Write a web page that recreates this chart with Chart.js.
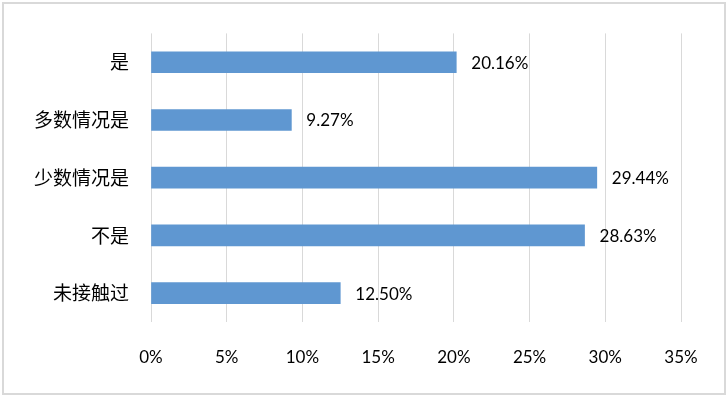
<!DOCTYPE html>
<html><head><meta charset="utf-8">
<script src="https://cdn.jsdelivr.net/npm/chart.js@4"></script>
<style>
html,body{margin:0;padding:0;background:#fff;}
#frame{position:absolute;left:2px;top:2px;width:720px;height:389px;border:2px solid #d9d9d9;}
#c{position:absolute;left:0;top:0;}
</style></head><body>
<div id="frame"></div>
<canvas id="c" width="728" height="397"></canvas>
<script>
const categories = ["是", "多数情况是", "少数情况是", "不是", "未接触过"];
const values = [20.16, 9.27, 29.44, 28.63, 12.50];
const tickValues = [0, 5, 10, 15, 20, 25, 30, 35];

const labelPlugin = {
  id: 'valLabels',
  afterDatasetsDraw(chart) {
    const ctx = chart.ctx;
    const meta = chart.getDatasetMeta(0);
    ctx.save();
    ctx.font = '17px Lato, "Noto Sans", sans-serif';
    ctx.fillStyle = '#000';
    ctx.textAlign = 'left';
    ctx.textBaseline = 'middle';
    meta.data.forEach((bar, i) => {
      ctx.fillText(values[i].toFixed(2) + '%', bar.x + 15, bar.y + 1);
    });
    ctx.restore();
  }
};

new Chart(document.getElementById('c'), {
  type: 'bar',
  data: {
    labels: categories,
    datasets: [{
      data: values,
      backgroundColor: '#5f97d1',
      barThickness: 21
    }]
  },
  options: {
    indexAxis: 'y',
    responsive: false,
    animation: false,
    layout: { padding: { left: 0, top: 28, right: 47, bottom: 0 } },
    plugins: { legend: { display: false }, tooltip: { enabled: false } },
    scales: {
      x: {
        min: 0, max: 35,
        afterBuildTicks(scale) { scale.ticks = tickValues.map(v => ({ value: v })); },
        afterFit(scale) { scale.height = 75; },
        grid: { color: '#d9d9d9', lineWidth: 1, drawTicks: false },
        border: { display: false },
        ticks: {
          padding: 25,
          color: '#000',
          font: { size: 17, family: 'Lato, "Noto Sans", sans-serif' },
          callback: v => v + '%'
        }
      },
      y: {
        afterFit(scale) { scale.width = 151; },
        grid: { display: false, drawTicks: false },
        border: { display: false },
        ticks: {
          padding: 22,
          color: '#000',
          font: { size: 19, family: '"Noto Sans CJK SC", sans-serif' }
        }
      }
    }
  },
  plugins: [labelPlugin]
});
</script>
</body></html>
